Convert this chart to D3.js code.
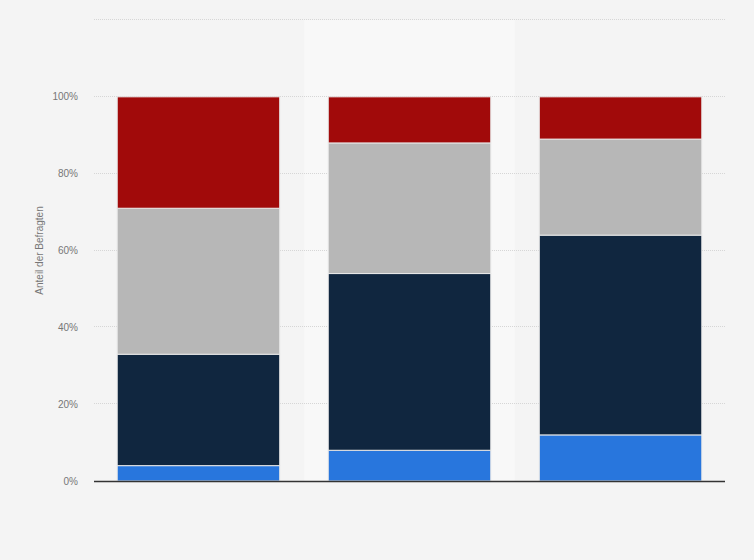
<!DOCTYPE html>
<html>
<head>
<meta charset="utf-8">
<script src="https://cdn.jsdelivr.net/npm/d3@7"></script>
<style>
  body { margin: 0; background: #f4f4f4; }
  svg { display: block; font-family: "Liberation Sans", Arial, sans-serif; }
</style>
</head>
<body>
<div id="app"></div>
<script>
// categories (no labels shown on the chart)
const categories = ['A', 'B', 'C'];
// stacked series, bottom to top, in percent
const seriesKeys = ['s1', 's2', 's3', 's4'];
const s1 = [4, 8, 12];
const s2 = [29, 46, 52];
const s3 = [38, 34, 25];
const s4 = [29, 12, 11];
const colors = ['#2876dd', '#10263f', '#b7b7b7', '#a10a0a'];
const yTicks = [0, 20, 40, 60, 80, 100];
const highlighted = 'B';

const W = 754, H = 560;
const margin = { top: 20, right: 29, bottom: 79, left: 94 };
const width = W - margin.left - margin.right;
const height = H - margin.top - margin.bottom;

const rows = categories.map((c, i) => ({ cat: c, s1: s1[i], s2: s2[i], s3: s3[i], s4: s4[i] }));

const svg = d3.select('#app')
  .append('svg')
  .attr('width', W)
  .attr('height', H);

svg.append('rect').attr('width', W).attr('height', H).attr('fill', '#f4f4f4');

const g = svg.append('g').attr('transform', `translate(${margin.left}, ${margin.top})`);

const x = d3.scaleBand().domain(categories).range([0, width]).paddingInner(0.23).paddingOuter(0.11);
const xFull = d3.scaleBand().domain(categories).range([0, width]).padding(0);
const y = d3.scaleLinear().domain([0, 120]).range([height, 0]);

// highlighted column
g.append('rect')
  .attr('x', xFull(highlighted))
  .attr('y', 0)
  .attr('width', xFull.bandwidth())
  .attr('height', height)
  .attr('fill', '#f8f8f8');

// gridlines
g.append('g')
  .selectAll('line')
  .data([...yTicks.slice(1), 120])
  .join('line')
  .attr('x1', 0)
  .attr('x2', width)
  .attr('y1', d => Math.round(y(d)) - 0.5)
  .attr('y2', d => Math.round(y(d)) - 0.5)
  .attr('stroke', '#d6d6d6')
  .attr('stroke-dasharray', '1,1');

// y tick labels
g.append('g')
  .selectAll('text')
  .data(yTicks)
  .join('text')
  .attr('x', -16)
  .attr('y', d => y(d))
  .attr('dy', '0.35em')
  .attr('text-anchor', 'end')
  .attr('fill', '#777')
  .attr('font-size', 10)
  .text(d => `${d}%`);

// y title
svg.append('text')
  .attr('transform', `translate(43, ${margin.top + height / 2}) rotate(-90)`)
  .attr('text-anchor', 'middle')
  .attr('fill', '#777')
  .attr('font-size', 10)
  .text('Anteil der Befragten');

// stacked bars
const series = d3.stack().keys(seriesKeys)(rows);

g.selectAll('g.series')
  .data(series)
  .join('g')
  .attr('class', 'series')
  .attr('fill', (d, i) => colors[i])
  .selectAll('rect')
  .data(d => d)
  .join('rect')
  .attr('x', d => x(d.data.cat))
  .attr('y', d => y(d[1]))
  .attr('width', x.bandwidth())
  .attr('height', d => y(d[0]) - y(d[1]))
  .attr('stroke', '#e8e8e8')
  .attr('stroke-width', 1);

// x axis line
g.append('line')
  .attr('x1', 0)
  .attr('x2', width)
  .attr('y1', height + 0.5)
  .attr('y2', height + 0.5)
  .attr('stroke', '#333')
  .attr('stroke-width', 1.3);
</script>
</body>
</html>
